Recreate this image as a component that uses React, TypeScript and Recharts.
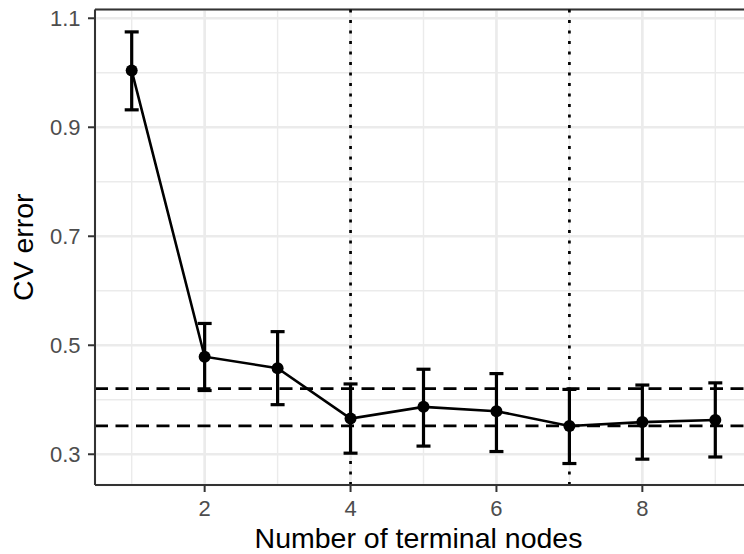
import React from 'react';
import {
  ComposedChart,
  Line,
  XAxis,
  YAxis,
  CartesianGrid,
  ReferenceLine,
  ErrorBar,
  Label,
} from 'recharts';

const nodes = [1, 2, 3, 4, 5, 6, 7, 8, 9];
const cvError = [1.004, 0.479, 0.458, 0.3655, 0.387, 0.379, 0.352, 0.359, 0.363];
const cvLow = [0.932, 0.417, 0.391, 0.302, 0.315, 0.305, 0.283, 0.291, 0.295];
const cvHigh = [1.075, 0.54, 0.525, 0.429, 0.456, 0.448, 0.419, 0.427, 0.431];
const xTicks = [2, 4, 6, 8];
const xMinorTicks = [1, 3, 5, 7, 9];
const yTicks = [0.3, 0.5, 0.7, 0.9, 1.1];
const yMinorTicks = [0.4, 0.6, 0.8, 1.0];
const hLines = [0.4205, 0.352];
const vLines = [4, 7];
const xDomain = [0.497, 9.503];
const yDomain = [0.2436, 1.1161];
const xTitle = 'Number of terminal nodes';
const yTitle = 'CV error';

const data = nodes.map((n, i) => ({
  n,
  cv: cvError[i],
  err: [cvError[i] - cvLow[i], cvHigh[i] - cvError[i]],
}));

const FONT = '"Liberation Sans", Arial, Helvetica, sans-serif';
const tickStyle = { fill: '#4D4D4D', fontSize: 22, fontFamily: FONT };

const YTitle = (props: any) => {
  const vb = props.viewBox || {};
  const cx = 23;
  const cy = vb.y + vb.height / 2;
  return (
    <text
      x={cx}
      y={cy}
      transform={`rotate(-90, ${cx}, ${cy})`}
      textAnchor="middle"
      dominantBaseline="central"
      fontSize={28.5}
      fontFamily={FONT}
      fill="#000"
    >
      {yTitle}
    </text>
  );
};

const XTitle = (props: any) => {
  const vb = props.viewBox || {};
  return (
    <text
      x={418.5}
      y={vb.y + vb.height - 6}
      textAnchor="middle"
      fontSize={28.5}
      fontFamily={FONT}
      fill="#000"
    >
      {xTitle}
    </text>
  );
};

export default function App() {
  return (
    <div style={{ position: 'absolute', left: 0, top: 0, width: 744, height: 554, overflow: 'hidden', background: '#fff' }}>
      <ComposedChart
        width={760}
        height={554}
        data={data}
        margin={{ top: 9.5, right: 8, bottom: 0, left: 0 }}
      >
        <CartesianGrid stroke="#EBEBEB" strokeWidth={2.7} />
        {xMinorTicks.map((v) => (
          <ReferenceLine key={`mx${v}`} x={v} stroke="#EBEBEB" strokeWidth={1.4} />
        ))}
        {yMinorTicks.map((v) => (
          <ReferenceLine key={`my${v}`} y={v} stroke="#EBEBEB" strokeWidth={1.4} />
        ))}
        <ReferenceLine y={yDomain[1]} stroke="#333333" strokeWidth={2.2} />
        <XAxis
          type="number"
          dataKey="n"
          domain={xDomain}
          allowDataOverflow
          ticks={xTicks}
          interval={0}
          height={69}
          tickSize={7}
          tickMargin={8}
          tick={tickStyle}
          tickLine={{ stroke: '#333333', strokeWidth: 2 }}
          axisLine={{ stroke: '#333333', strokeWidth: 2 }}
        >
          <Label content={<XTitle />} position="insideBottom" />
        </XAxis>
        <YAxis
          type="number"
          domain={yDomain}
          allowDataOverflow
          ticks={yTicks}
          interval={0}
          width={95}
          tickSize={7}
          tickMargin={7.5}
          tick={tickStyle}
          tickFormatter={(v: number) => v.toFixed(1)}
          tickLine={{ stroke: '#333333', strokeWidth: 2 }}
          axisLine={{ stroke: '#333333', strokeWidth: 2 }}
        >
          <Label content={<YTitle />} position="insideLeft" />
        </YAxis>
        {vLines.map((v) => (
          <ReferenceLine key={`v${v}`} x={v} stroke="#000" strokeWidth={2.7} strokeDasharray="3 7.5" />
        ))}
        {hLines.map((h) => (
          <ReferenceLine key={`h${h}`} y={h} stroke="#000" strokeWidth={2.7} strokeDasharray="13 7.5" />
        ))}
        <Line
          dataKey="cv"
          type="linear"
          stroke="#000"
          strokeWidth={2.6}
          dot={{ r: 6, fill: '#000', stroke: '#000', strokeWidth: 0 }}
          activeDot={false}
          isAnimationActive={false}
        >
          <ErrorBar dataKey="err" direction="y" width={7} strokeWidth={3.2} stroke="#000" isAnimationActive={false} />
        </Line>
      </ComposedChart>
    </div>
  );
}
